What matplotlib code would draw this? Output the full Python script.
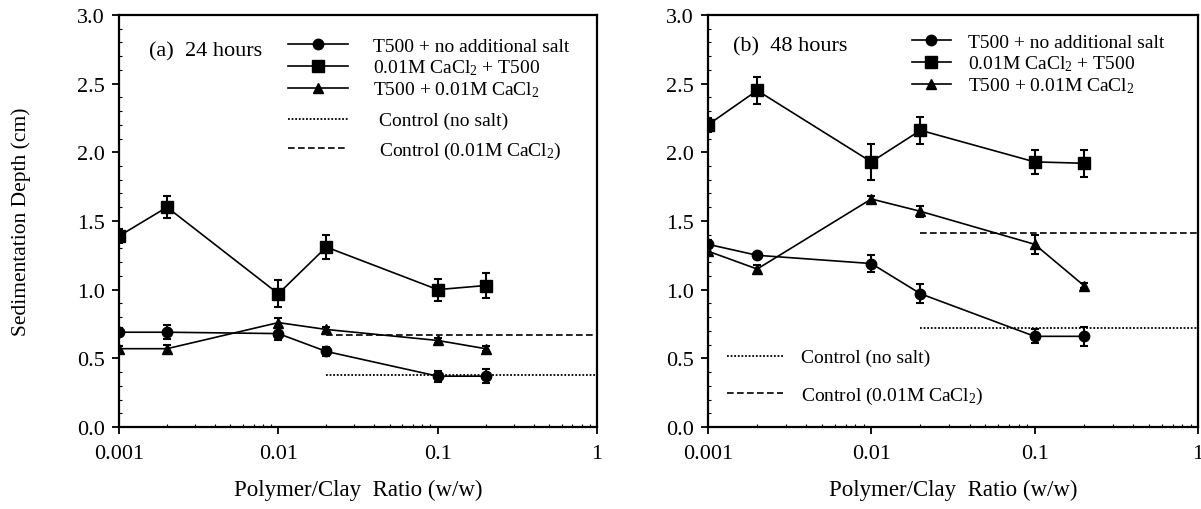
import numpy as np
import matplotlib
matplotlib.use("Agg")
import matplotlib.pyplot as plt
from matplotlib.lines import Line2D
from matplotlib.ticker import FixedLocator, FixedFormatter, MultipleLocator, LogLocator, FormatStrFormatter

plt.rcParams["font.family"] = ["Liberation Serif", "DejaVu Serif"]
plt.rcParams["mathtext.fontset"] = "custom"
plt.rcParams["mathtext.rm"] = "Liberation Serif"
plt.rcParams["mathtext.it"] = "Liberation Serif:italic"

# polymer/clay ratios (w/w)
ratio = [0.001, 0.002, 0.01, 0.02, 0.1, 0.2]

# (a) 24 hours
a_nosalt = [0.69, 0.69, 0.68, 0.55, 0.37, 0.37]
a_nosalt_err = [0.03, 0.05, 0.05, 0.03, 0.04, 0.05]
a_ca_first = [1.39, 1.60, 0.97, 1.31, 1.00, 1.03]
a_ca_first_err = [0.05, 0.08, 0.10, 0.09, 0.08, 0.09]
a_ca_after = [0.57, 0.57, 0.76, 0.71, 0.63, 0.57]
a_ca_after_err = [0.02, 0.03, 0.03, 0.02, 0.02, 0.02]
a_ctrl_nosalt = 0.38
a_ctrl_ca = 0.67

# (b) 48 hours
b_nosalt = [1.33, 1.25, 1.19, 0.97, 0.66, 0.66]
b_nosalt_err = [0.03, 0.02, 0.06, 0.07, 0.05, 0.07]
b_ca_first = [2.20, 2.45, 1.93, 2.16, 1.93, 1.92]
b_ca_first_err = [0.05, 0.10, 0.13, 0.10, 0.09, 0.10]
b_ca_after = [1.28, 1.15, 1.66, 1.57, 1.33, 1.03]
b_ca_after_err = [0.03, 0.03, 0.02, 0.04, 0.07, 0.02]
b_ctrl_nosalt = 0.72
b_ctrl_ca = 1.41

ctrl_range = [0.02, 1.0]

lbl_nosalt = "T500 + no additional salt"
lbl_ca_first = "0.01M CaCl$_2$ + T500"
lbl_ca_after = "T500 + 0.01M CaCl$_2$"
lbl_ctrl_nosalt = "Control (no salt)"
lbl_ctrl_ca = "Control (0.01M CaCl$_2$)"

fig = plt.figure(figsize=(12.01, 5.10), dpi=100)
ax_a = fig.add_axes([0.0991, 0.1608, 0.398, 0.808])
ax_b = fig.add_axes([0.5895, 0.1608, 0.408, 0.808])

ebkw = dict(color="black", lw=1.2, elinewidth=1.5, capsize=3, capthick=1.5)
MS = {"o": 7.5, "s": 8, "^": 7.5}


def draw_panel(ax, nosalt, nosalt_err, ca_first, ca_first_err, ca_after, ca_after_err,
               ctrl_nosalt, ctrl_ca):
    ax.errorbar(ratio, nosalt, yerr=nosalt_err, marker="o", ms=MS["o"], **ebkw)
    ax.errorbar(ratio, ca_first, yerr=ca_first_err, marker="s", ms=MS["s"], **ebkw)
    ax.errorbar(ratio, ca_after, yerr=ca_after_err, marker="^", ms=MS["^"], **ebkw)
    ax.plot(ctrl_range, [ctrl_nosalt, ctrl_nosalt], color="black", lw=1.3, ls=(0, (1, 1)))
    ax.plot(ctrl_range, [ctrl_ca, ctrl_ca], color="black", lw=1.2, ls=(0, (4, 2)))

    ax.set_xscale("log")
    ax.set_xlim(0.001, 1)
    ax.set_ylim(0, 3.0)
    ax.xaxis.set_major_locator(FixedLocator([0.001, 0.01, 0.1, 1]))
    ax.xaxis.set_major_formatter(FixedFormatter(["0.001", "0.01", "0.1", "1"]))
    ax.xaxis.set_minor_locator(LogLocator(base=10, subs=np.arange(2, 10)))
    ax.xaxis.set_minor_formatter(FixedFormatter([]))
    ax.yaxis.set_major_locator(MultipleLocator(0.5))
    ax.yaxis.set_minor_locator(MultipleLocator(0.1))
    ax.yaxis.set_major_formatter(FormatStrFormatter("%.1f"))
    ax.tick_params(which="major", direction="out", length=5, width=1.3, labelsize=16, pad=5)
    ax.tick_params(axis="x", which="major", pad=7)
    ax.tick_params(which="minor", direction="in", length=2.5, width=0.8)
    for s in ax.spines.values():
        s.set_linewidth(1.6)
    ax.set_xlabel("Polymer/Clay  Ratio (w/w)", fontsize=16.5)
    ax.xaxis.set_label_coords(0.5, -0.125)


draw_panel(ax_a, a_nosalt, a_nosalt_err, a_ca_first, a_ca_first_err, a_ca_after, a_ca_after_err,
           a_ctrl_nosalt, a_ctrl_ca)
draw_panel(ax_b, b_nosalt, b_nosalt_err, b_ca_first, b_ca_first_err, b_ca_after, b_ca_after_err,
           b_ctrl_nosalt, b_ctrl_ca)

ax_a.set_ylabel("Sedimentation Depth (cm)", fontsize=15.5)
ax_a.yaxis.set_label_coords(-0.185, 0.5)

# legend handles
h_nosalt = Line2D([], [], color="black", lw=1.2, marker="o", ms=MS["o"])
h_ca_first = Line2D([], [], color="black", lw=1.2, marker="s", ms=MS["s"])
h_ca_after = Line2D([], [], color="black", lw=1.2, marker="^", ms=MS["^"])
h_ctrl_nosalt = Line2D([], [], color="black", lw=1.3, ls=(0, (1, 1)))
h_ctrl_ca = Line2D([], [], color="black", lw=1.2, ls=(0, (4, 2)))

legkw = dict(frameon=False, borderpad=0, borderaxespad=0, numpoints=1, fontsize=14)

# panel (a)
ax_a.text(0.063, 0.912, "(a)  24 hours", transform=ax_a.transAxes, fontsize=16, va="center")
leg1 = ax_a.legend([h_nosalt, h_ca_first, h_ca_after], [lbl_nosalt, lbl_ca_first, lbl_ca_after],
                   loc="upper left", bbox_to_anchor=(0.353, 0.945), handlelength=3.1,
                   handletextpad=1.3, labelspacing=0.12, **legkw)
ax_a.add_artist(leg1)
ax_a.legend([h_ctrl_nosalt, h_ctrl_ca], [lbl_ctrl_nosalt, lbl_ctrl_ca],
            loc="upper left", bbox_to_anchor=(0.353, 0.765), handlelength=3.1,
            handletextpad=1.6, labelspacing=0.55, **legkw)

# panel (b)
ax_b.text(0.051, 0.925, "(b)  48 hours", transform=ax_b.transAxes, fontsize=16, va="center")
leg3 = ax_b.legend([h_nosalt, h_ca_first, h_ca_after], [lbl_nosalt, lbl_ca_first, lbl_ca_after],
                   loc="upper left", bbox_to_anchor=(0.416, 0.955), handlelength=2.0,
                   handletextpad=0.9, labelspacing=0.12, **legkw)
ax_b.add_artist(leg3)
ax_b.legend([h_ctrl_nosalt, h_ctrl_ca], [lbl_ctrl_nosalt, lbl_ctrl_ca],
            loc="upper left", bbox_to_anchor=(0.038, 0.19), handlelength=2.9,
            handletextpad=0.95, labelspacing=0.95, **legkw)

fig.savefig("out.png", dpi=100)
